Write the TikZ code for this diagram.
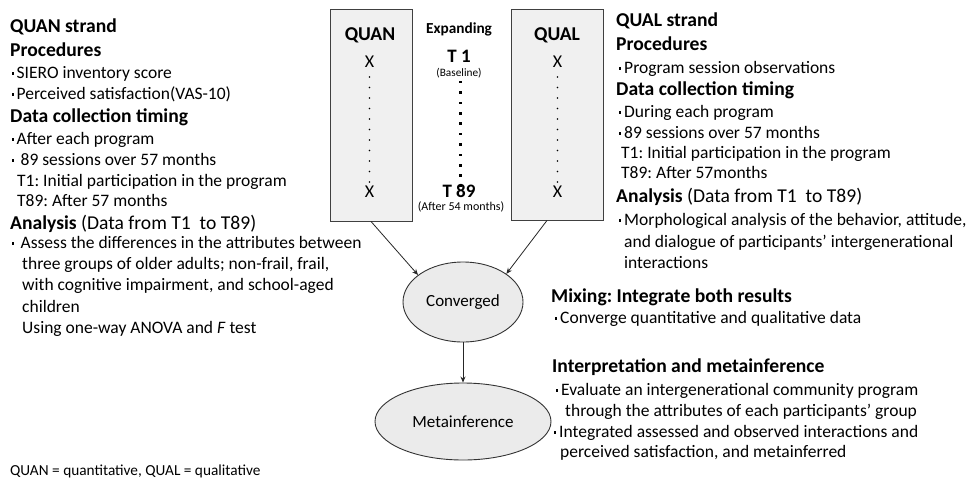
\documentclass[tikz,border=0pt]{standalone}
\usepackage{fontspec}
\setmainfont{Carlito}
\usetikzlibrary{arrows.meta,shapes.geometric}
\frenchspacing

% small square bullet hung to the left of the text start
\newcommand\bul{\llap{\rule[3.4pt]{2.3pt}{2.3pt}\hspace{2.9pt}}}

\tikzset{
  body/.style={anchor=base west, inner sep=0pt, font=\fontsize{17.5}{20}\selectfont},
  head/.style={anchor=base west, inner sep=0pt, font=\fontsize{19.6}{23}\selectfont\bfseries},
  headr/.style={anchor=base west, inner sep=0pt, font=\fontsize{19.6}{23}\selectfont},
  foot/.style={anchor=base west, inner sep=0pt, font=\fontsize{15.3}{18}\selectfont},
  strandbox/.style={draw=black!75, line width=0.9pt, fill=black!6, rectangle, inner sep=0pt},
  stage/.style={draw=black!80, line width=0.9pt, fill=black!8, ellipse, inner sep=0pt,
    font=\fontsize{17}{20}\selectfont},
  boxlabel/.style={anchor=base, inner sep=0pt, font=\fontsize{19.6}{23}\selectfont\bfseries},
  xmark/.style={anchor=base, inner sep=0pt, font=\fontsize{18}{20}\selectfont},
  arr/.style={draw=black!85, line width=0.8pt, -{Stealth[length=6pt,width=5pt]}},
}

\begin{document}
\begin{tikzpicture}[x=1pt,y=-1pt]
\useasboundingbox (0,0) rectangle (968,479);

% ---------- QUAN strand (left column) ----------
\node[head] (qnT)  at (10,32)  {QUAN strand};
\node[head] (qnP)  at (10,56)  {Procedures};
\node[body] (qnP1) at (16.5,78) {\bul SIERO inventory score};
\node[body] (qnP2) at (16.5,99) {\bul Perceived satisfaction(VAS-10)};
\node[head] (qnD)  at (10,122) {Data collection timing};
\node[body] (qnD1) at (16.5,144) {\bul After each program};
\node[body] (qnD2) at (16.5,165) {\bul\ 89 sessions over 57 months};
\node[body] (qnD3) at (17,186) {T1: Initial participation in the program};
\node[body] (qnD4) at (17,206) {T89: After 57 months};
\node[headr] (qnA) at (10,229) {\textbf{Analysis} (Data from T1~ to T89)};
\node[body] (qnA1) at (16.5,248) {\bul\ Assess the differences in the attributes between};
\node[body] (qnA2) at (22,269) {three groups of older adults; non-frail, frail,};
\node[body] (qnA3) at (22,290) {with cognitive impairment, and school-aged};
\node[body] (qnA4) at (22,312) {children};
\node[body] (qnA5) at (22,333) {Using one-way ANOVA and \textit{F} test};

\node[foot] (note) at (10,475) {QUAN = quantitative, QUAL = qualitative};

% ---------- strand boxes ----------
\node[strandbox, minimum width=82pt, minimum height=212pt] (quanbox) at (371,115) {};
\node[strandbox, minimum width=92pt, minimum height=211pt] (qualbox) at (557,114.5) {};

\node[boxlabel] (quanlbl) at (370,40) {QUAN};
\node[boxlabel] (quallbl) at (557,40) {QUAL};
\node[xmark] (quanx1) at (369.5,67)  {X};
\node[xmark] (quanx2) at (369.5,197) {X};
\node[xmark] (qualx1) at (557.5,67)  {X};
\node[xmark] (qualx2) at (557.5,197) {X};
\foreach \i in {0,...,10} {
  \fill (369.5,{77+10.5*\i}) circle (0.8pt);
  \fill (557.5,{77+10.5*\i}) circle (0.8pt);
  \fill ({460.5-1.3},{82+10.4*\i-1.3}) rectangle ++(2.6,2.6);
}

% ---------- time line between the boxes ----------
\node[anchor=base, inner sep=0pt, font=\fontsize{15.3}{18}\selectfont\bfseries] (expand) at (459,33) {Expanding};
\node[anchor=base, inner sep=0pt, font=\fontsize{19}{22}\selectfont\bfseries] (t1) at (459,62) {T 1};
\node[anchor=base, inner sep=0pt, font=\fontsize{11.3}{13}\selectfont] (t1note) at (459,76) {(Baseline)};
\node[anchor=base, inner sep=0pt, font=\fontsize{19}{22}\selectfont\bfseries] (t89) at (459,197) {T 89};
\node[anchor=base, inner sep=0pt, font=\fontsize{12}{14}\selectfont] (t89note) at (461,210) {(After 54 months)};

% ---------- integration ----------
\node[stage, minimum width=120pt, minimum height=80pt] (conv) at (463,302) {Converged};
\node[stage, minimum width=176pt, minimum height=77pt] (meta) at (463,421.5) {Metainference};

\draw[arr] (quanbox.south) -- (conv.149);
\draw[arr] ([xshift=-10pt]qualbox.south) -- (conv.33);
\draw[arr] (conv.south) -- (meta.north);

% ---------- QUAL strand (right column) ----------
\node[head] (qlT)  at (616,27)  {QUAL strand};
\node[head] (qlP)  at (616,50)  {Procedures};
\node[body] (qlP1) at (624,73)  {\bul Program session observations};
\node[head] (qlD)  at (616,95)  {Data collection timing};
\node[body] (qlD1) at (624,117) {\bul During each program};
\node[body] (qlD2) at (624,138) {\bul 89 sessions over 57 months};
\node[body] (qlD3) at (621,158) {T1: Initial participation in the program};
\node[body] (qlD4) at (621,178) {T89: After 57months};
\node[headr] (qlA) at (616,202) {\textbf{Analysis} (Data from T1~ to T89)};
\node[body] (qlA1) at (624,225) {\bul Morphological analysis of the behavior, attitude,};
\node[body] (qlA2) at (624,247) {and dialogue of participants’ intergenerational};
\node[body] (qlA3) at (624,268) {interactions};

% ---------- mixing and interpretation ----------
\node[head] (mixT)  at (551,302) {Mixing: Integrate both results};
\node[body] (mix1)  at (560,323) {\bul Converge quantitative and qualitative data};
\node[head] (intT)  at (552,372) {Interpretation and metainference};
\node[body] (int1)  at (561,395) {\bul Evaluate an intergenerational community program};
\node[body] (int2)  at (565,416) {through the attributes of each participants’ group};
\node[body] (int3)  at (559,437) {\bul Integrated assessed and observed interactions and};
\node[body] (int4)  at (560,457) {perceived satisfaction, and metainferred};

\end{tikzpicture}
\end{document}
